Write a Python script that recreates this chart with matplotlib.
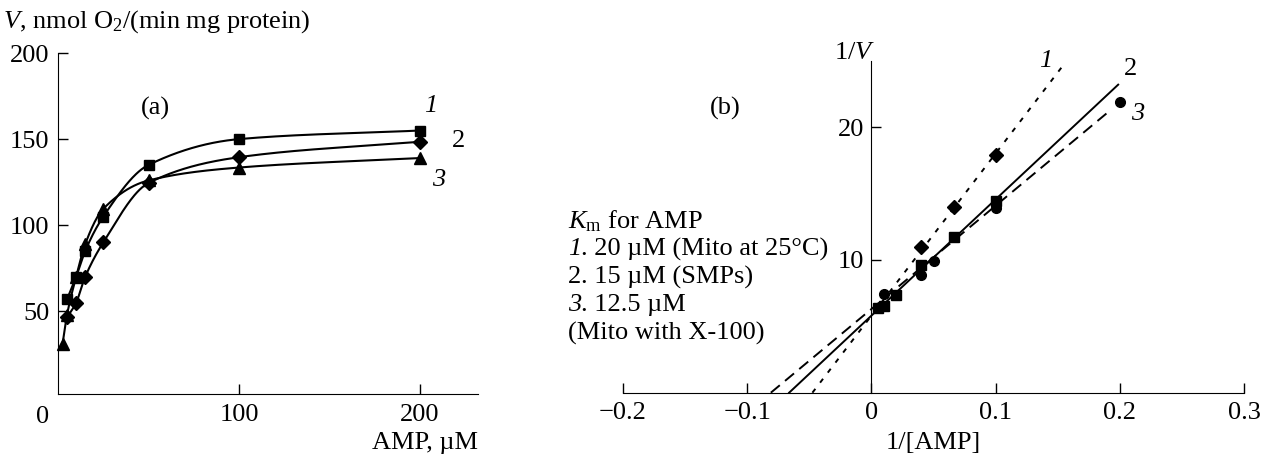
import numpy as np
import matplotlib
matplotlib.use("Agg")
import matplotlib.pyplot as plt

plt.rcParams["font.family"] = ["Liberation Serif", "DejaVu Serif"]
plt.rcParams["mathtext.fontset"] = "custom"
plt.rcParams["mathtext.rm"] = "Liberation Serif"
plt.rcParams["mathtext.it"] = "Liberation Serif:italic"
FS = 19

# ---- panel (a): V vs [AMP] ----
amp_sq = [5, 10, 15, 25, 50, 100, 200]
v_sq = [57, 70, 85, 105, 135, 150, 155]          # curve 1
amp_di = [5, 10, 15, 25, 50, 100, 200]
v_di = [46.5, 55, 70, 90, 124.5, 139.5, 148.5]   # curve 2
amp_tr = [2.5, 5, 10, 15, 25, 50, 100, 200]
v_tr = [31, 48, 70, 89, 109.5, 126, 133.5, 139]  # curve 3

# ---- panel (b): Lineweaver-Burk ----
inv_di = [0.04, 0.0667, 0.1]
invv_di = [11.0, 14.0, 17.9]
inv_sq = [0.005, 0.01, 0.02, 0.04, 0.0667, 0.1]
invv_sq = [6.35, 6.5, 7.35, 9.6, 11.7, 14.4]
inv_ci = [0.01, 0.04, 0.05, 0.1, 0.2]
invv_ci = [7.4, 8.85, 9.95, 13.9, 21.9]

# fitted lines: intercept, slope, x-range drawn
fit_intercept = [5.80, 5.80, 6.30]
fit_slope = [122.1, 87.55, 77.8]
fit_xmax = [0.1563, 0.1987, 0.1925]

km_label = ["1", "2", "3"]
km_text = [". 20 µM (Mito at 25°C)", ". 15 µM (SMPs)", ". 12.5 µM"]
km_italic = [True, False, True]


def pchip(x, y, xn):
    x = np.asarray(x, float); y = np.asarray(y, float)
    h = np.diff(x); d = np.diff(y) / h
    m = np.zeros_like(x)
    m[0], m[-1] = d[0], d[-1]
    for k in range(1, len(x) - 1):
        if d[k - 1] * d[k] > 0:
            w1 = 2 * h[k] + h[k - 1]
            w2 = h[k] + 2 * h[k - 1]
            m[k] = (w1 + w2) / (w1 / d[k - 1] + w2 / d[k])
    i = np.clip(np.searchsorted(x, xn) - 1, 0, len(x) - 2)
    t = (xn - x[i]) / h[i]
    h00 = 2 * t**3 - 3 * t**2 + 1
    h10 = t**3 - 2 * t**2 + t
    h01 = -2 * t**3 + 3 * t**2
    h11 = t**3 - t**2
    return h00 * y[i] + h10 * h[i] * m[i] + h01 * y[i + 1] + h11 * h[i] * m[i + 1]


W, H = 1264, 458
fig = plt.figure(figsize=(W / 100, H / 100), dpi=100)

# panel (a)
axa = fig.add_axes([58 / W, 1 - 394 / H, 420 / W, 341 / H])
for xs, ys, mk, ms in [(amp_sq, v_sq, "s", 7.5), (amp_di, v_di, "D", 7),
                       (amp_tr, v_tr, "^", 8)]:
    xx = np.linspace(xs[0], xs[-1], 400)
    axa.plot(xx, pchip(xs, ys, xx), color="k", lw=1.5)
    axa.plot(xs, ys, ls="none", marker=mk, ms=ms, color="k", clip_on=False)
axa.set_xlim(0, 232)
axa.set_ylim(2, 200)
axa.spines[["top", "right"]].set_visible(False)
axa.set_xticks([100, 200])
axa.set_yticks([50, 100, 150, 200])
axa.tick_params(direction="in", length=7, width=1, pad=7, labelsize=FS)
axa.tick_params(axis="y", pad=6)
axa.text(-8.5, -5, "0", ha="center", va="top", fontsize=FS, clip_on=False)
axa.text(53.6, 168, "(a)", ha="center", va="center", fontsize=FS)
axa.text(206, 169, "1", style="italic", ha="center", va="center", fontsize=FS)
axa.text(221, 149, "2", ha="center", va="center", fontsize=FS)
axa.text(210, 126.5, "3", style="italic", ha="center", va="center", fontsize=FS)
fig.text(3 / W, 1 - 22 / H, "$V$, nmol O$_2$/(min mg protein)",
         ha="left", va="center", fontsize=FS)
fig.text(478 / W, 1 - 443 / H, "AMP, µM", ha="right", va="center", fontsize=FS)

# panel (b)
axb = fig.add_axes([623 / W, 1 - 392.7 / H, 621 / W, 332 / H])
styles = [(0, (2.5, 4)), "-", (0, (6, 3.5))]
for b, s, xm, ls in zip(fit_intercept, fit_slope, fit_xmax, styles):
    xx = np.array([-b / s, xm])
    axb.plot(xx, b + s * xx, color="k", lw=1.4, ls=ls)
axb.plot(inv_di, invv_di, ls="none", marker="D", ms=7, color="k")
axb.plot(inv_sq, invv_sq, ls="none", marker="s", ms=7.5, color="k")
axb.plot(inv_ci, invv_ci, ls="none", marker="o", ms=7, color="k", clip_on=False)
axb.set_xlim(-0.2, 0.3)
axb.set_ylim(0, 25)
axb.spines[["top", "right"]].set_visible(False)
axb.spines["left"].set_position(("data", 0))
axb.set_xticks([-0.2, -0.1, 0, 0.1, 0.2, 0.3])
axb.set_xticklabels(["\u22120.2", "\u22120.1", "0", "0.1", "0.2", "0.3"])
axb.set_yticks([10, 20])
axb.tick_params(direction="in", length=7, width=1, pad=7, labelsize=FS)
axb.tick_params(axis="y", pad=5)
axb.text(0.003, 25.6, "1/$V$", ha="right", va="center", fontsize=FS)
axb.text(-0.118, 21.4, "(b)", ha="center", va="center", fontsize=FS)
axb.text(0.140, 25.0, "1", style="italic", ha="center", va="center", fontsize=FS)
axb.text(0.2087, 24.4, "2", ha="center", va="center", fontsize=FS)
axb.text(0.2143, 21.0, "3", style="italic", ha="center", va="center", fontsize=FS)
fig.text(933 / W, 1 - 443 / H, "1/[AMP]", ha="center", va="center", fontsize=FS)

x0 = 568 / W
fig.text(x0, 1 - 221 / H, "$K_\\mathrm{m}$ for AMP", ha="left", va="center",
         fontsize=FS)
digit_w = 0.5 * FS / 72 * 100 / W
for i, (lab, txt, it) in enumerate(zip(km_label, km_text, km_italic)):
    y = 1 - (249 + 28 * i) / H
    fig.text(x0, y, lab, ha="left", va="center", fontsize=FS,
             style="italic" if it else "normal")
    fig.text(x0 + digit_w, y, txt, ha="left", va="center", fontsize=FS)
fig.text(x0, 1 - 333 / H, "(Mito with X-100)", ha="left", va="center",
         fontsize=FS)

fig.savefig("out.png", dpi=100)
